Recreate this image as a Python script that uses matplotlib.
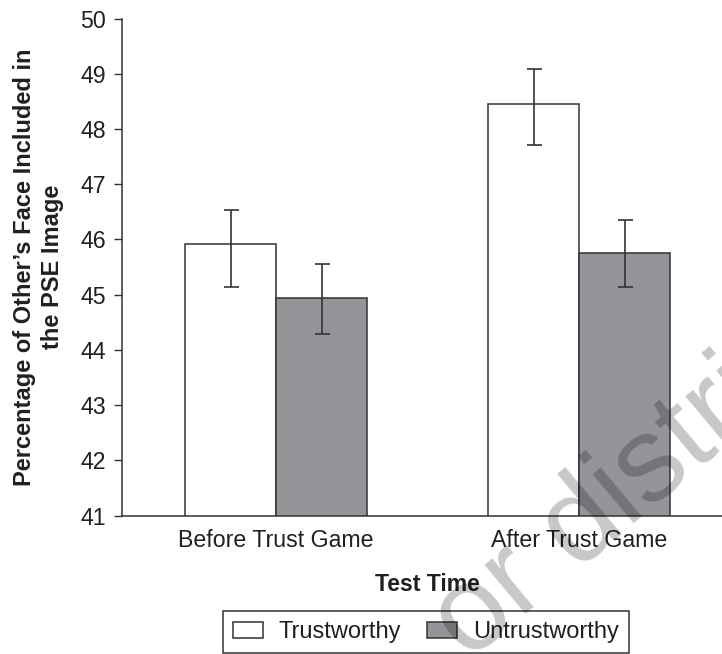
import matplotlib
matplotlib.use("Agg")
import matplotlib.pyplot as plt
import numpy as np
from matplotlib.patches import Patch

# ---- data ----
categories = ["Before Trust Game", "After Trust Game"]
trust_mean = [45.92, 48.46]
trust_upper = [46.53, 49.09]
trust_lower = [45.14, 47.71]
untrust_mean = [44.94, 45.76]
untrust_upper = [45.56, 46.35]
untrust_lower = [44.29, 45.14]
y_ticks = [41, 42, 43, 44, 45, 46, 47, 48, 49, 50]
series_names = ["Trustworthy", "Untrustworthy"]

plt.rcParams['font.family'] = ['Liberation Sans', 'DejaVu Sans']
TXT = '#231f20'
EDGE = '#333333'
GRAY = '#939598'

W, H = 722, 654
fig = plt.figure(figsize=(W / 100, H / 100), dpi=100)
ax_left = 121.7 / W
ax_bottom = 1 - 515.7 / H
ax_top = 1 - 18.5 / H
ax_right = 733.8 / W
ax = fig.add_axes([ax_left, ax_bottom, ax_right - ax_left, ax_top - ax_bottom])

x = np.arange(len(categories))
w = 0.3
t_err = [np.array(trust_mean) - np.array(trust_lower), np.array(trust_upper) - np.array(trust_mean)]
u_err = [np.array(untrust_mean) - np.array(untrust_lower), np.array(untrust_upper) - np.array(untrust_mean)]

ekw = dict(ecolor=EDGE, elinewidth=1.2, capsize=5.4, capthick=1.2)
ax.bar(x - w / 2, trust_mean, w, color='white', edgecolor=EDGE, linewidth=1.1,
       yerr=t_err, error_kw=ekw, label=series_names[0])
ax.bar(x + w / 2, untrust_mean, w, color=GRAY, edgecolor=EDGE, linewidth=1.1,
       yerr=u_err, error_kw=ekw, label=series_names[1])

ax.set_xlim(-0.51, 1.51)
ax.set_ylim(41, 50)
ax.set_yticks(y_ticks)
ax.set_xticks(x)
ax.set_xticklabels(categories)
for s in ['top', 'right']:
    ax.spines[s].set_visible(False)
for s in ['left', 'bottom']:
    ax.spines[s].set_color(EDGE)
    ax.spines[s].set_linewidth(1.1)
ax.tick_params(axis='y', length=5.5, width=1.0, color=EDGE, pad=6, labelsize=16.7, labelcolor=TXT)
ax.tick_params(axis='x', length=0, pad=9.5, labelsize=16.7, labelcolor=TXT)

ax.set_xlabel("Test Time", fontsize=16.6, fontweight='bold', color=TXT, labelpad=15)

fig.text(38.5 / W, 1 - 267 / H, "Percentage of Other\u2019s Face Included in\nthe PSE Image",
         rotation=90, ha='center', va='center', multialignment='center',
         fontsize=17, fontweight='bold', color=TXT, linespacing=1.33)

handles = [Patch(facecolor='white', edgecolor=EDGE, linewidth=1.1),
           Patch(facecolor=GRAY, edgecolor=EDGE, linewidth=1.1)]
leg = fig.legend(handles, series_names, loc='center', bbox_to_anchor=(426 / W, 1 - 632 / H),
                 ncol=2, fontsize=17, frameon=True, fancybox=False, framealpha=1,
                 edgecolor=EDGE, handlelength=1.27, handleheight=0.64, columnspacing=1.1,
                 handletextpad=0.66, borderpad=0.42, borderaxespad=0, labelcolor=TXT)
leg.get_frame().set_linewidth(1.1)

# faint watermark visible across the lower right
fig.text(468 / W, 1 - 662 / H, "or distribute", rotation=40, rotation_mode='anchor',
         ha='left', va='baseline', fontsize=87, color='black', alpha=0.22, zorder=10)

fig.savefig("out.png", dpi=100)
